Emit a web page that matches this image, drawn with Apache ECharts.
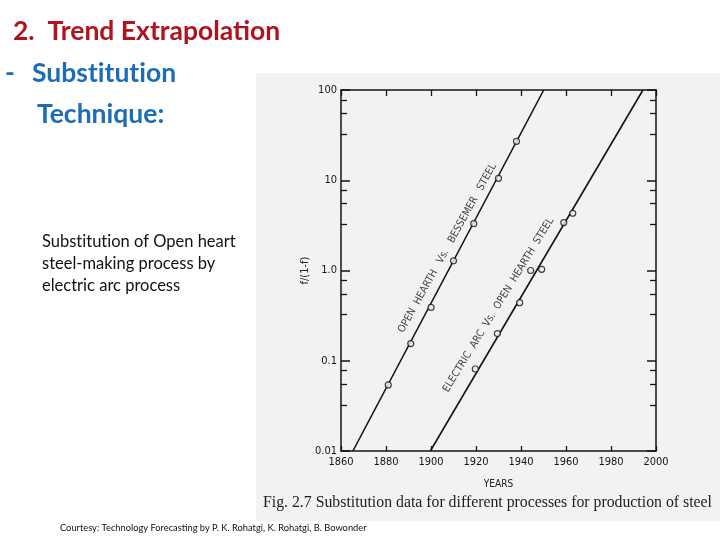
<!DOCTYPE html>
<html><head><meta charset="utf-8">
<script src="https://cdn.jsdelivr.net/npm/echarts@6/dist/echarts.min.js"></script>
<style>html,body{margin:0;padding:0;background:#fff}#c{width:720px;height:540px}</style>
</head><body><div id="c"></div>
<script>
// ---- data ----
const xTickYears = [1860, 1880, 1900, 1920, 1940, 1960, 1980, 2000];
const yTickLabels = ['0.01', '0.1', '1.0', '10', '100'];

const besYears  = [1881, 1891, 1900, 1910, 1919, 1930, 1938];
const besValues = [0.054, 0.155, 0.39, 1.28, 3.3, 10.5, 27];
const besFitYears  = [1865.3, 1950.1];
const besFitValues = [0.01, 100];

const arcYears  = [1919.7, 1929.5, 1939.4, 1944.3, 1949.2, 1959, 1963];
const arcValues = [0.081, 0.2, 0.44, 1.0, 1.03, 3.4, 4.3];
const arcFitYears  = [1899.7, 1994.2];
const arcFitValues = [0.01, 100];

const curveLabels = ['OPEN  HEARTH   Vs.   BESSEMER   STEEL', 'ELECTRIC  ARC  Vs.  OPEN  HEARTH  STEEL'];

// ---- build ----
const zip = (a, b) => a.map((v, i) => [v, b[i]]);
const ink = '#141414';
const scanBg = '#f2f2f0';
const axFont = '"Liberation Sans Narrow","DejaVu Sans Condensed","Liberation Sans",sans-serif';
const ZWNJ = '\u200C'; // keeps "ti" from forming a ligature, like the slide font

const chart = echarts.init(document.getElementById('c'), null, {renderer: 'canvas'});
const yLabelMap = {};
[0.01, 0.1, 1, 10, 100].forEach((v, i) => yLabelMap[v] = yTickLabels[i]);

const baseX = {
  type: 'value', min: xTickYears[0], max: xTickYears[xTickYears.length - 1], interval: 20,
  axisLine: {show: true, onZero: false, lineStyle: {color: ink, width: 1.5}},
  splitLine: {show: false}
};
const baseY = {
  type: 'log', logBase: 10, min: 0.01, max: 100,
  axisLine: {show: true, lineStyle: {color: ink, width: 1.5}},
  splitLine: {show: false}
};
const noLig = s => s.replace(/ti/g, 't' + ZWNJ + 'i');

chart.setOption({
  animation: false,
  backgroundColor: '#ffffff',
  grid: {left: 341, right: 64, top: 90, bottom: 89, containLabel: false},
  xAxis: [
    Object.assign({}, baseX, {
      position: 'bottom',
      axisTick: {show: true, inside: true, length: 5, lineStyle: {color: ink, width: 1.3}},
      axisLabel: {color: '#151515', fontSize: 11, fontFamily: axFont, margin: 6,
        formatter: v => xTickYears.includes(v) ? String(v) : ''},
      name: 'YEARS', nameLocation: 'middle', nameGap: 28,
      nameTextStyle: {color: '#222', fontSize: 10, fontFamily: axFont}
    }),
    Object.assign({}, baseX, {
      position: 'top',
      axisTick: {show: true, inside: true, length: 6, lineStyle: {color: ink, width: 1.3}},
      axisLabel: {show: false}
    })
  ],
  yAxis: [
    Object.assign({}, baseY, {
      position: 'left',
      axisTick: {show: true, inside: true, length: 9, lineStyle: {color: ink, width: 1.5}},
      minorTick: {show: true, splitNumber: 4, length: 6, lineStyle: {color: ink, width: 1.3}},
      axisLabel: {color: '#151515', fontSize: 11, fontFamily: axFont, margin: 4,
        formatter: v => yLabelMap[v] !== undefined ? yLabelMap[v] : ''},
      name: 'f/(1-f)', nameLocation: 'middle', nameGap: 18, nameRotate: 90,
      nameTextStyle: {color: '#222', fontSize: 11, fontFamily: axFont}
    }),
    Object.assign({}, baseY, {
      position: 'right',
      axisTick: {show: true, inside: true, length: 9, lineStyle: {color: ink, width: 1.5}},
      minorTick: {show: true, splitNumber: 4, length: 6, lineStyle: {color: ink, width: 1.3}},
      axisLabel: {show: false}
    })
  ],
  series: [
    {type: 'line', name: 'bes-fit', data: zip(besFitYears, besFitValues), symbol: 'none',
      lineStyle: {color: ink, width: 1.6}, z: 3},
    {type: 'line', name: 'arc-fit', data: zip(arcFitYears, arcFitValues), symbol: 'none',
      lineStyle: {color: ink, width: 1.6}, z: 3},
    {type: 'scatter', name: 'bes-pts', data: zip(besYears, besValues), symbol: 'circle', symbolSize: 6,
      itemStyle: {color: scanBg, borderColor: ink, borderWidth: 1.2}, z: 4},
    {type: 'scatter', name: 'arc-pts', data: zip(arcYears, arcValues), symbol: 'circle', symbolSize: 6,
      itemStyle: {color: scanBg, borderColor: ink, borderWidth: 1.2}, z: 4},
    {type: 'scatter', name: 'labels', symbolSize: 0, silent: true, z: 5,
      data: [
        {value: [1907.3, 1.77], label: {rotate: 61, formatter: curveLabels[0]}},
        {value: [1930.0, 0.415], label: {rotate: 58.5, formatter: curveLabels[1]}}
      ],
      label: {show: true, position: 'inside', color: '#111', fontSize: 10.5, fontFamily: axFont}
    }
  ],
  graphic: [
    {type: 'rect', z: -10, shape: {x: 256, y: 73, width: 464, height: 448}, style: {fill: scanBg}},
    {type: 'text', x: 13, y: 31, style: {text: '2.  Trend Extrapolation', fill: '#B0121E',
      font: 'bold 26.5px Lato, "Open Sans", sans-serif', textVerticalAlign: 'middle'}},
    {type: 'text', x: 5, y: 73, style: {text: '-', fill: '#1D6DB5',
      font: 'bold 26.5px Lato, "Open Sans", sans-serif', textVerticalAlign: 'middle'}},
    {type: 'text', x: 32, y: 73, style: {text: noLig('Substitution'), fill: '#1D6DB5',
      font: 'bold 26.5px Lato, "Open Sans", sans-serif', textVerticalAlign: 'middle'}},
    {type: 'text', x: 37, y: 114, style: {text: 'Technique:', fill: '#1D6DB5',
      font: 'bold 26.5px Lato, "Open Sans", sans-serif', textVerticalAlign: 'middle'}},
    {type: 'text', x: 42, y: 242, style: {text: noLig('Substitution of Open heart'), fill: '#111',
      font: '16.5px Lato, "Open Sans", sans-serif', textVerticalAlign: 'middle'}},
    {type: 'text', x: 42, y: 264, style: {text: 'steel-making process by', fill: '#111',
      font: '16.5px Lato, "Open Sans", sans-serif', textVerticalAlign: 'middle'}},
    {type: 'text', x: 42, y: 286, style: {text: 'electric arc process', fill: '#111',
      font: '16.5px Lato, "Open Sans", sans-serif', textVerticalAlign: 'middle'}},
    {type: 'text', x: 263, y: 503, style: {text: 'Fig. 2.7 Substitution data for different processes for production of steel',
      fill: '#1e1e1e', font: '15.8px "Liberation Serif", "DejaVu Serif", serif', textVerticalAlign: 'middle'}},
    {type: 'text', x: 60, y: 528, style: {text: 'Courtesy: Technology Forecasting by P. K. Rohatgi, K. Rohatgi, B. Bowonder',
      fill: '#111', font: '9.3px Lato, "Open Sans", sans-serif', textVerticalAlign: 'middle'}}
  ]
});
</script></body></html>
